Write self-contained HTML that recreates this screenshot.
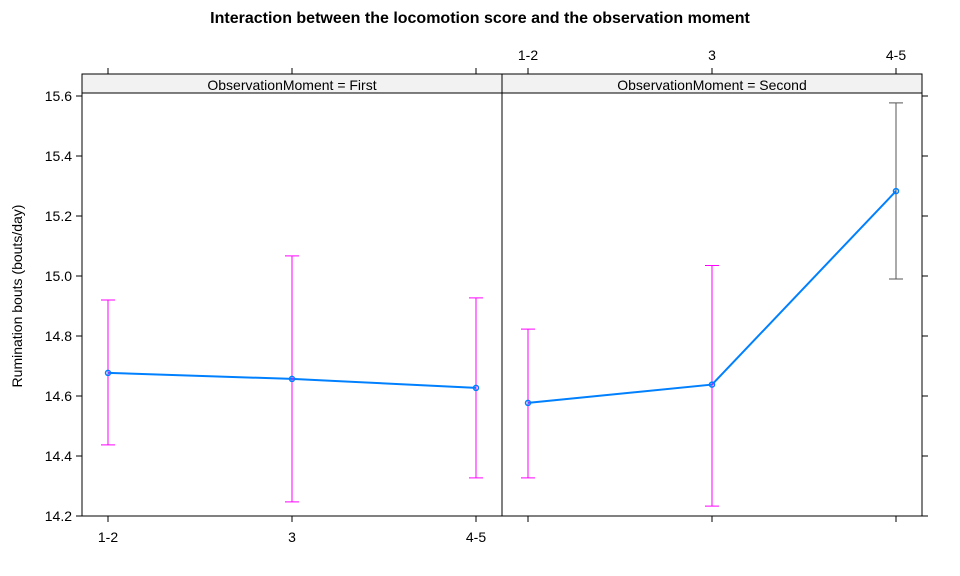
<!DOCTYPE html>
<html><head><meta charset="utf-8"><style>
body{margin:0;background:#fff}
svg{display:block;font-family:"Liberation Sans",Arial,sans-serif}
</style></head><body>
<svg id="chart" width="960" height="576" viewBox="0 0 960 576">
<text x="480" y="23" text-anchor="middle" font-size="16" font-weight="bold">Interaction between the locomotion score and the observation moment</text>
<text transform="translate(22,296) rotate(-90)" text-anchor="middle" font-size="14">Rumination bouts (bouts/day)</text>
<g id="g"></g>
</svg>
<script>
const categories = ["1-2","3","4-5"];
const panels = ["First","Second"];
const fitFirst = [14.677, 14.657, 14.627];
const lowerFirst = [14.437, 14.247, 14.327];
const upperFirst = [14.920, 15.067, 14.927];
const fitSecond = [14.577, 14.638, 15.283];
const lowerSecond = [14.327, 14.233, 14.990];
const upperSecond = [14.823, 15.035, 15.577];
const yTicks = [14.2,14.4,14.6,14.8,15.0,15.2,15.4,15.6];

const NS="http://www.w3.org/2000/svg";
const g=document.getElementById('g');
function el(t,a,p){const e=document.createElementNS(NS,t);for(const k in a)e.setAttribute(k,a[k]);(p||g).appendChild(e);return e;}
const panelTop=74, stripBottom=93, panelBottom=516, pw=420, left0=82;
function y(v){return 96+(15.6-v)*300;}
function x(p,i){return left0+p*pw+26+i*184;}

const fits=[fitFirst,fitSecond], lows=[lowerFirst,lowerSecond], ups=[upperFirst,upperSecond];
panels.forEach((name,p)=>{
  const L=left0+p*pw;
  const s=el('rect',{x:L,y:panelTop,width:pw,height:stripBottom-panelTop,fill:'#f2f2f2',stroke:'#000','stroke-width':1});
  
  
  const t=el('text',{x:L+pw/2,y:panelTop+16,'text-anchor':'middle','font-size':14});
  t.textContent='ObservationMoment = '+name;
  
  
  const b=el('rect',{x:L,y:panelTop,width:pw,height:panelBottom-panelTop,fill:'none',stroke:'#000','stroke-width':1});
  
  
  const pts=fits[p].map((v,i)=>x(p,i)+','+y(v)).join(' ');
  const ln=el('polyline',{points:pts,fill:'none',stroke:'#0080ff','stroke-width':2});
  
  
  categories.forEach((c,i)=>{
    const xx=x(p,i);
    const col=(p===1&&i===2)?'#555':'#ff00ff';
    const eb=el('g',{stroke:col,'stroke-width':1});
    
    
    el('line',{x1:xx,x2:xx,y1:y(lows[p][i]),y2:y(ups[p][i])},eb);
    el('line',{x1:xx-7,x2:xx+7,y1:y(lows[p][i]),y2:y(lows[p][i])},eb);
    el('line',{x1:xx-7,x2:xx+7,y1:y(ups[p][i]),y2:y(ups[p][i])},eb);
    const pt=el('circle',{cx:xx,cy:y(fits[p][i]),r:2.5,fill:'none',stroke:'#0080ff','stroke-width':1.5});
    
    
    el('line',{x1:xx,x2:xx,y1:panelBottom,y2:panelBottom+6,stroke:'#000'});
    el('line',{x1:xx,x2:xx,y1:panelTop,y2:panelTop-6,stroke:'#000'});
    if(p===0){
      const tl=el('text',{x:xx,y:panelBottom+26,'text-anchor':'middle','font-size':14});
      tl.textContent=c;
      
      
    } else {
      const tl=el('text',{x:xx,y:panelTop-14,'text-anchor':'middle','font-size':14});
      tl.textContent=c;
      
      
    }
  });
});
yTicks.forEach(v=>{
  el('line',{x1:left0-6,x2:left0,y1:y(v),y2:y(v),stroke:'#000'});
  el('line',{x1:left0+2*pw,x2:left0+2*pw+6,y1:y(v),y2:y(v),stroke:'#000'});
  const t=el('text',{x:left0-10,y:y(v)+5,'text-anchor':'end','font-size':14});
  t.textContent=v.toFixed(1);
  
  
});
</script>
</body></html>
